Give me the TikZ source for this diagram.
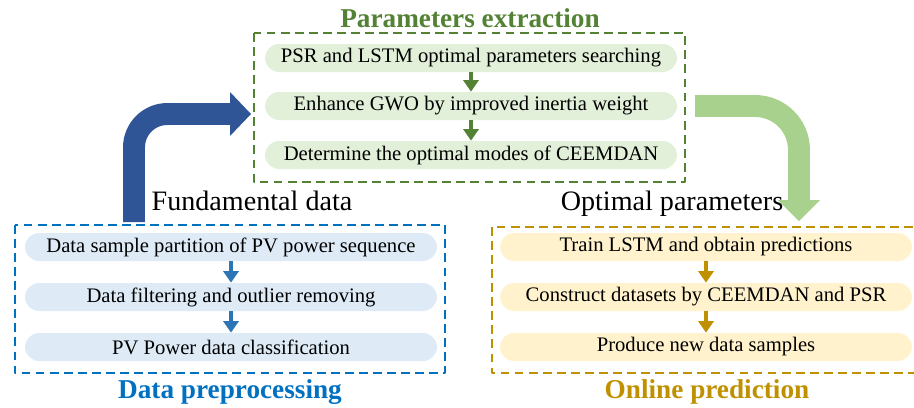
\documentclass[tikz,border=0pt]{standalone}
\usepackage{fontspec}
\setmainfont{Liberation Serif}
\usetikzlibrary{arrows.meta,positioning}
\definecolor{gdark}{HTML}{548235}
\definecolor{gfill}{HTML}{E2F0D9}
\definecolor{glight}{HTML}{A9D18E}
\definecolor{bdark}{HTML}{0070C0}
\definecolor{barrow}{HTML}{2E75B6}
\definecolor{bfill}{HTML}{DEEBF7}
\definecolor{bbig}{HTML}{2F5597}
\definecolor{odark}{HTML}{BF9000}
\definecolor{ofill}{HTML}{FFF2CC}
\tikzset{
  pill/.style={rectangle, rounded corners=8pt, minimum width=8.24cm, minimum height=0.56cm, inner sep=0pt},
  gpill/.style={pill, fill=gfill}, bpill/.style={pill, fill=bfill}, opill/.style={pill, fill=ofill},
  dbox/.style={line width=1.4pt, dash pattern=on 5pt off 3pt},
  smallarr/.style={line width=2.3pt, -{Triangle[width=8.5pt,length=6.5pt]}},
  title/.style={font=\fontsize{15.5}{17}\selectfont\bfseries},
  side/.style={font=\fontsize{16}{18}\selectfont, anchor=base}
}
\begin{document}
\begin{tikzpicture}[x=0.02cm, y=-0.02cm, font=\fontsize{11.75}{13}\selectfont, line join=round]
	\clip (0,0) rectangle (914,407);
	
	% big arrows
	\draw[bbig, line width=12.5pt, rounded corners=19pt] (134,222) -- (134,114) -- (232,114);
	\fill[bbig] (230,92) -- (251,114) -- (230,136) -- cycle;
	\draw[glight, line width=12.5pt, rounded corners=25pt] (695,106) -- (799,106) -- (799,201);
	\fill[glight] (778,200) -- (820,200) -- (799,221) -- cycle;
	
	% parameters extraction
	\draw[gdark, dbox] (254,33) rectangle (685,182);
	\node[title, text=gdark] (gt) at (470,18) {Parameters extraction};
	\node[gpill] (g1) at (471,58) {PSR and LSTM optimal parameters searching};
	\node[gpill] (g2) at (471,106) {Enhance GWO by improved inertia weight};
	\node[gpill] (g3) at (471,155) {Determine the optimal modes of CEEMDAN};
	\draw[gdark, smallarr] (g1.south) -- (g2.north);
	\draw[gdark, smallarr] (g2.south) -- (g3.north);
	
	% data preprocessing
	\draw[bdark, dbox] (15,225) rectangle (445,373);
	\node[title, text=bdark] (bt) at (230,392) {Data preprocessing};
	\node[bpill] (b1) at (231,247) {Data sample partition of PV power sequence};
	\node[bpill] (b2) at (231,297) {Data filtering and outlier removing};
	\node[bpill] (b3) at (231,347) {PV Power data classification};
	\draw[barrow, smallarr] (b1.south) -- (b2.north);
	\draw[barrow, smallarr] (b2.south) -- (b3.north);
	\node[side] (fd) at (252,210) {Fundamental data};
	
	% online prediction
	\draw[odark, dbox] (492,227) rectangle (922,373);
	\node[title, text=odark] (ot) at (707,392) {Online prediction};
	\node[opill] (o1) at (706,247) {Train LSTM and obtain predictions};
	\node[opill] (o2) at (706,297) {Construct datasets by CEEMDAN and PSR};
	\node[opill] (o3) at (706,347) {Produce new data samples};
	\draw[odark, smallarr] (o1.south) -- (o2.north);
	\draw[odark, smallarr] (o2.south) -- (o3.north);
	\node[side] (op) at (672,210) {Optimal parameters};
\end{tikzpicture}
\end{document}
